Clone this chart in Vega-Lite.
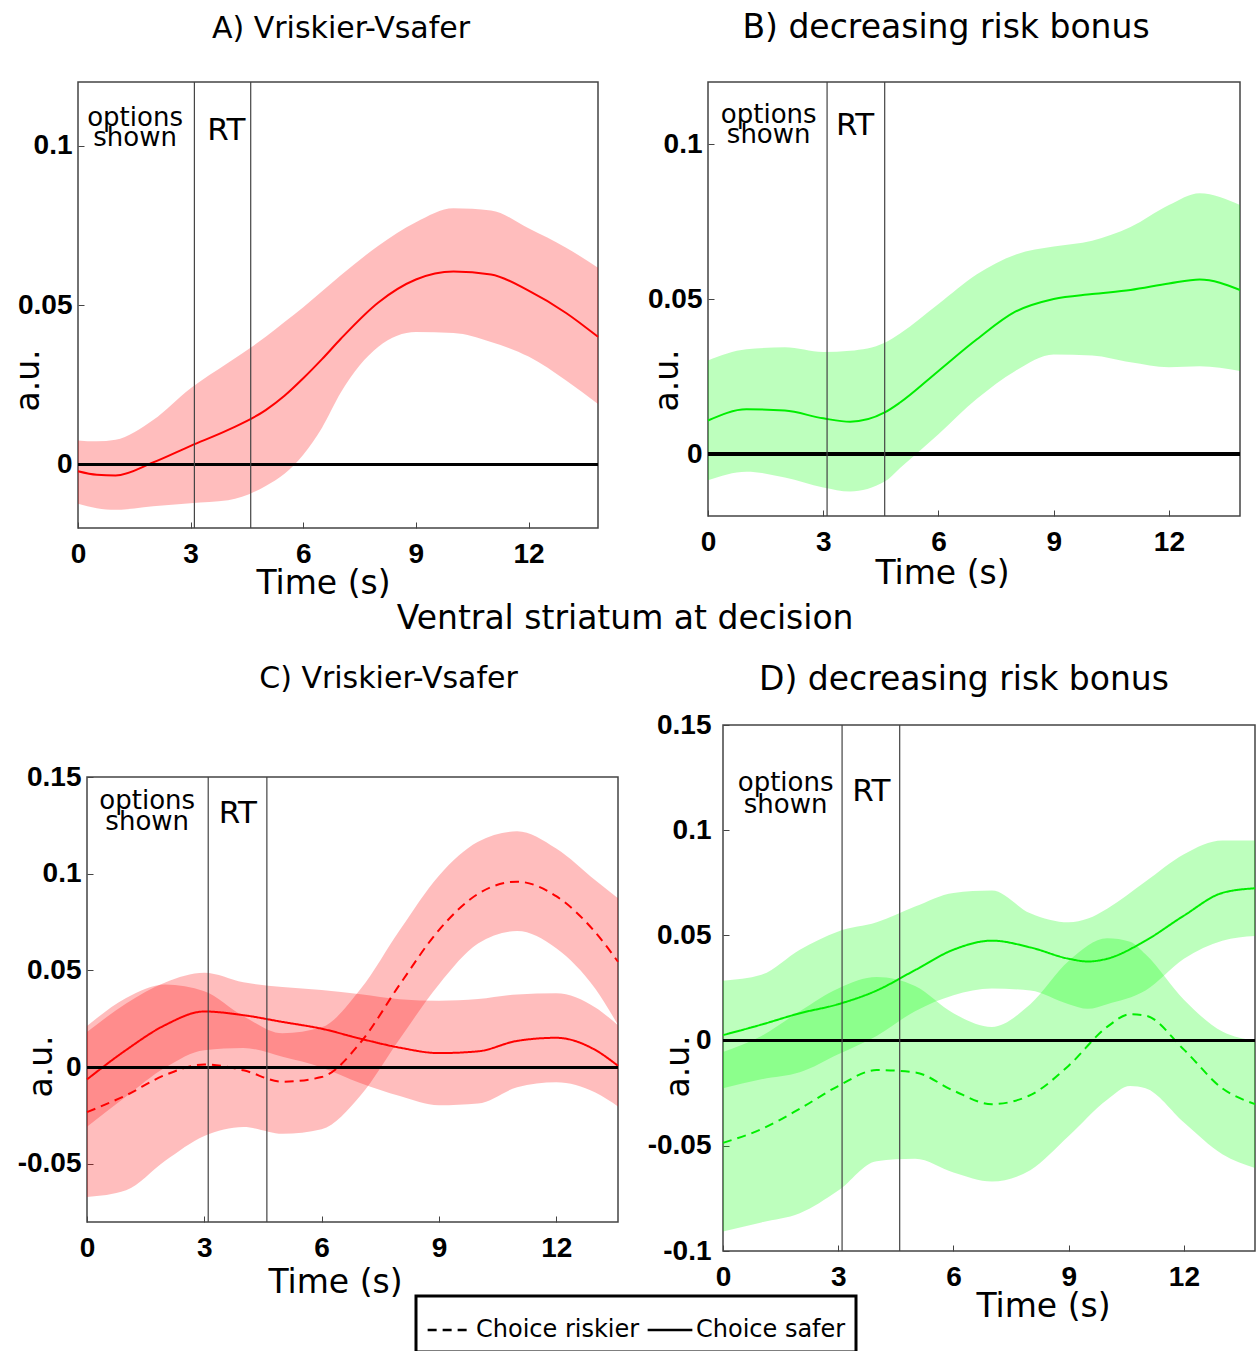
{
  "$schema": "https://vega.github.io/schema/vega-lite/v6.json",
  "padding": {"left": 11, "top": 11, "right": 0, "bottom": 0},
  "background": "white",
  "spacing": 2,
  "vconcat": [
    {
      "spacing": 43,
      "hconcat": [
        {
          "width": 520, "height": 446,
          "title": {"text": "A) Vriskier-Vsafer", "offset": 13, "dx": 3, "fontSize": 30, "baseline": "alphabetic"},
          "data": {"values": [
            {"t":0,"m":-0.0022,"lo":-0.0124,"hi":0.0075},
            {"t":0.5,"m":-0.0033,"lo":-0.0138,"hi":0.0072},
            {"t":1,"m":-0.0035,"lo":-0.0143,"hi":0.0077},
            {"t":2,"m":0.0006,"lo":-0.0132,"hi":0.0139},
            {"t":3,"m":0.0058,"lo":-0.0122,"hi":0.0239},
            {"t":4,"m":0.0108,"lo":-0.0113,"hi":0.0319},
            {"t":5,"m":0.017,"lo":-0.0068,"hi":0.040},
            {"t":5.5,"m":0.0215,"lo":-0.003,"hi":0.0447},
            {"t":6,"m":0.027,"lo":0.003,"hi":0.0493},
            {"t":6.5,"m":0.033,"lo":0.0115,"hi":0.0543},
            {"t":7,"m":0.0394,"lo":0.0225,"hi":0.0593},
            {"t":8,"m":0.0508,"lo":0.0369,"hi":0.0686},
            {"t":9,"m":0.058,"lo":0.0415,"hi":0.076},
            {"t":10,"m":0.0605,"lo":0.0412,"hi":0.0804},
            {"t":11,"m":0.0596,"lo":0.0384,"hi":0.0797},
            {"t":12,"m":0.0545,"lo":0.0338,"hi":0.0741},
            {"t":13,"m":0.0475,"lo":0.0263,"hi":0.068},
            {"t":13.85,"m":0.040,"lo":0.0189,"hi":0.0617}
          ]},
          "layer": [
            {
              "mark": {"type": "area", "color": "#ff0000", "opacity": 0.26, "interpolate": "monotone"},
              "encoding": {
                "x": {"field": "t", "type": "quantitative", "scale": {"domain": [0, 13.85], "nice": false, "zero": false},
                      "axis": {"values": [0,3,6,9,12], "title": "Time (s)", "titleX": 245, "titleY": 55}},
                "y": {"field": "lo", "type": "quantitative", "scale": {"domain": [-0.02, 0.12], "nice": false, "zero": false},
                      "axis": {"values": [0,0.05,0.1], "title": "a.u.", "titleX": -50, "titleY": 298, "labelExpr": "'' + datum.value"}},
                "y2": {"field": "hi"}
              }
            },
            {
              "mark": {"type": "line", "color": "#ff0000", "strokeWidth": 2, "interpolate": "monotone"},
              "encoding": {
                "x": {"field": "t", "type": "quantitative"},
                "y": {"field": "m", "type": "quantitative"}
              }
            },
            {
              "mark": {"type": "rule", "color": "#000", "strokeWidth": 2.5},
              "encoding": {"y": {"datum": 0, "type": "quantitative"}}
            },
            {
              "data": {"values": [{"t": 3.1}, {"t": 4.6}]},
              "mark": {"type": "rule", "color": "#444", "strokeWidth": 1.2},
              "encoding": {"x": {"field": "t", "type": "quantitative"}}
            },
            {
              "data": {"values": [{"t": 1.52, "v": 0.1063, "label": "options"}, {"t": 1.52, "v": 0.1, "label": "shown"}]},
              "mark": {"type": "text", "font": "DejaVu Sans", "fontSize": 26, "align": "center", "baseline": "alphabetic", "color": "#000"},
              "encoding": {
                "x": {"field": "t", "type": "quantitative"},
                "y": {"field": "v", "type": "quantitative"},
                "text": {"field": "label"}
              }
            },
            {
              "data": {"values": [{"t": 3.95, "v": 0.1019, "label": "RT"}]},
              "mark": {"type": "text", "font": "DejaVu Sans", "fontSize": 31, "align": "center", "baseline": "alphabetic", "color": "#000"},
              "encoding": {
                "x": {"field": "t", "type": "quantitative"},
                "y": {"field": "v", "type": "quantitative"},
                "text": {"field": "label"}
              }
            }
          ]
        },
        {
          "width": 532, "height": 434,
          "title": {"text": "B) decreasing risk bonus", "offset": 10, "dx": -28, "baseline": "alphabetic"},
          "data": {"values": [
            {"t":0,"m":0.0108,"lo":-0.0085,"hi":0.0302},
            {"t":1,"m":0.0144,"lo":-0.0057,"hi":0.0338},
            {"t":2,"m":0.014,"lo":-0.0076,"hi":0.0344},
            {"t":3,"m":0.0115,"lo":-0.0108,"hi":0.0329},
            {"t":3.7,"m":0.0104,"lo":-0.0121,"hi":0.0333},
            {"t":4.6,"m":0.0134,"lo":-0.0089,"hi":0.0359},
            {"t":5,"m":0.0166,"lo":-0.0045,"hi":0.0389},
            {"t":6,"m":0.0268,"lo":0.0064,"hi":0.0484},
            {"t":7,"m":0.037,"lo":0.0178,"hi":0.058},
            {"t":8,"m":0.0459,"lo":0.0268,"hi":0.0643},
            {"t":9,"m":0.050,"lo":0.0321,"hi":0.0669},
            {"t":10,"m":0.0516,"lo":0.0318,"hi":0.0688},
            {"t":11,"m":0.0529,"lo":0.0296,"hi":0.0732},
            {"t":12,"m":0.055,"lo":0.028,"hi":0.0803},
            {"t":12.8,"m":0.0563,"lo":0.0283,"hi":0.0841},
            {"t":13.85,"m":0.0529,"lo":0.0268,"hi":0.0803}
          ]},
          "layer": [
            {
              "mark": {"type": "area", "color": "#00ff00", "opacity": 0.26, "interpolate": "monotone"},
              "encoding": {
                "x": {"field": "t", "type": "quantitative", "scale": {"domain": [0, 13.85], "nice": false, "zero": false},
                      "axis": {"values": [0,3,6,9,12], "title": "Time (s)", "titleX": 234, "titleY": 57}},
                "y": {"field": "lo", "type": "quantitative", "scale": {"domain": [-0.02, 0.12], "nice": false, "zero": false},
                      "axis": {"values": [0,0.05,0.1], "title": "a.u.", "titleX": -41, "titleY": 298, "labelExpr": "'' + datum.value"}},
                "y2": {"field": "hi"}
              }
            },
            {
              "mark": {"type": "line", "color": "#00ee00", "strokeWidth": 2, "interpolate": "monotone"},
              "encoding": {
                "x": {"field": "t", "type": "quantitative"},
                "y": {"field": "m", "type": "quantitative"}
              }
            },
            {
              "mark": {"type": "rule", "color": "#000", "strokeWidth": 2.5},
              "encoding": {"y": {"datum": 0, "type": "quantitative"}}
            },
            {
              "data": {"values": [{"t": 3.1}, {"t": 4.6}]},
              "mark": {"type": "rule", "color": "#444", "strokeWidth": 1.2},
              "encoding": {"x": {"field": "t", "type": "quantitative"}}
            },
            {
              "data": {"values": [{"t": 1.58, "v": 0.1068, "label": "options"}, {"t": 1.58, "v": 0.1004, "label": "shown"}]},
              "mark": {"type": "text", "font": "DejaVu Sans", "fontSize": 26, "align": "center", "baseline": "alphabetic", "color": "#000"},
              "encoding": {
                "x": {"field": "t", "type": "quantitative"},
                "y": {"field": "v", "type": "quantitative"},
                "text": {"field": "label"}
              }
            },
            {
              "data": {"values": [{"t": 3.83, "v": 0.1028, "label": "RT"}]},
              "mark": {"type": "text", "font": "DejaVu Sans", "fontSize": 31, "align": "center", "baseline": "alphabetic", "color": "#000"},
              "encoding": {
                "x": {"field": "t", "type": "quantitative"},
                "y": {"field": "v", "type": "quantitative"},
                "text": {"field": "label"}
              }
            }
          ]
        }
      ]
    },
    {
      "title": {"text": "Ventral striatum at decision", "anchor": "middle", "dx": -13, "offset": 0, "baseline": "alphabetic"},
      "spacing": 23,
      "hconcat": [
        {"spacing": 0, "vconcat": [
        {"data": {"values": []}, "mark": "point", "width": 1, "height": 1, "view": {"stroke": null}},
        {"spacing": -63, "hconcat": [
        {"data": {"values": []}, "mark": "point", "width": 1, "height": 1, "view": {"stroke": null}},
        {
          "width": 531, "height": 445,
          "title": {"text": "C) Vriskier-Vsafer", "offset": 45, "dx": 36, "fontSize": 30, "baseline": "alphabetic"},
          "data": {"values": [
            {"c":"safer","t":0,"m":-0.0063,"lo":-0.0308,"hi":0.0182},
            {"c":"safer","t":1,"m":0.0089,"lo":-0.0151,"hi":0.0329},
            {"c":"safer","t":2,"m":0.0218,"lo":-0.0002,"hi":0.0438},
            {"c":"safer","t":3,"m":0.0288,"lo":0.0088,"hi":0.0488},
            {"c":"safer","t":4,"m":0.0269,"lo":0.0099,"hi":0.0439},
            {"c":"safer","t":5,"m":0.0234,"lo":0.0054,"hi":0.0414},
            {"c":"safer","t":6,"m":0.0199,"lo":-0.0001,"hi":0.0399},
            {"c":"safer","t":7,"m":0.0147,"lo":-0.0083,"hi":0.0377},
            {"c":"safer","t":8,"m":0.0101,"lo":-0.0149,"hi":0.0351},
            {"c":"safer","t":9,"m":0.0073,"lo":-0.0197,"hi":0.0343},
            {"c":"safer","t":10,"m":0.0082,"lo":-0.0188,"hi":0.0352},
            {"c":"safer","t":11,"m":0.0136,"lo":-0.0104,"hi":0.0376},
            {"c":"safer","t":12,"m":0.0152,"lo":-0.0078,"hi":0.0382},
            {"c":"safer","t":13,"m":0.0089,"lo":-0.0131,"hi":0.0309},
            {"c":"safer","t":13.58,"m":0.0007,"lo":-0.0203,"hi":0.0217},
            {"c":"riskier","t":0,"m":-0.0232,"lo":-0.0671,"hi":0.0213},
            {"c":"riskier","t":1,"m":-0.0145,"lo":-0.0636,"hi":0.0358},
            {"c":"riskier","t":2,"m":-0.004,"lo":-0.0484,"hi":0.0428},
            {"c":"riskier","t":3,"m":0.0014,"lo":-0.0356,"hi":0.0393},
            {"c":"riskier","t":4,"m":-0.0016,"lo":-0.0309,"hi":0.0264},
            {"c":"riskier","t":5,"m":-0.0075,"lo":-0.0344,"hi":0.0175},
            {"c":"riskier","t":6,"m":-0.0051,"lo":-0.032,"hi":0.0206},
            {"c":"riskier","t":7,"m":0.0129,"lo":-0.0145,"hi":0.0405},
            {"c":"riskier","t":8,"m":0.0428,"lo":0.0147,"hi":0.0709},
            {"c":"riskier","t":9,"m":0.0709,"lo":0.0428,"hi":0.099},
            {"c":"riskier","t":10,"m":0.0896,"lo":0.0639,"hi":0.1165},
            {"c":"riskier","t":11,"m":0.0959,"lo":0.0704,"hi":0.1219},
            {"c":"riskier","t":12,"m":0.0884,"lo":0.0615,"hi":0.113},
            {"c":"riskier","t":13,"m":0.0697,"lo":0.0405,"hi":0.0966},
            {"c":"riskier","t":13.58,"m":0.0545,"lo":0.0218,"hi":0.0873}
          ]},
          "layer": [
            {
              "mark": {"type": "area", "color": "#ff0000", "opacity": 0.26, "interpolate": "monotone"},
              "encoding": {
                "x": {"field": "t", "type": "quantitative", "scale": {"domain": [0, 13.58], "nice": false, "zero": false},
                      "axis": {"values": [0,3,6,9,12], "title": "Time (s)", "titleX": 248, "titleY": 60}},
                "y": {"field": "lo", "type": "quantitative", "scale": {"domain": [-0.08, 0.15], "nice": false, "zero": false},
                      "axis": {"values": [-0.05,0,0.05,0.1,0.15], "title": "a.u.", "titleX": -46, "titleY": 289, "labelExpr": "'' + datum.value"}},
                "y2": {"field": "hi"},
                "detail": {"field": "c", "type": "nominal"}
              }
            },
            {
              "mark": {"type": "line", "color": "#ff0000", "strokeWidth": 2, "interpolate": "monotone"},
              "encoding": {
                "x": {"field": "t", "type": "quantitative"},
                "y": {"field": "m", "type": "quantitative"},
                "strokeDash": {"field": "c", "type": "nominal", "scale": {"domain": ["riskier", "safer"], "range": [[9, 6], [1, 0]]},
                               "legend": {"title": null, "orient": "none", "legendX": 338, "legendY": 1214, "direction": "horizontal", "labelExpr": "'Choice ' + datum.label"}}
              }
            },
            {
              "mark": {"type": "rule", "color": "#000", "strokeWidth": 2.5},
              "encoding": {"y": {"datum": 0, "type": "quantitative"}}
            },
            {
              "data": {"values": [{"t": 3.1}, {"t": 4.6}]},
              "mark": {"type": "rule", "color": "#444", "strokeWidth": 1.2},
              "encoding": {"x": {"field": "t", "type": "quantitative"}}
            },
            {
              "data": {"values": [{"t": 1.54, "v": 0.1337, "label": "options"}, {"t": 1.54, "v": 0.1226, "label": "shown"}]},
              "mark": {"type": "text", "font": "DejaVu Sans", "fontSize": 26, "align": "center", "baseline": "alphabetic", "color": "#000"},
              "encoding": {
                "x": {"field": "t", "type": "quantitative"},
                "y": {"field": "v", "type": "quantitative"},
                "text": {"field": "label"}
              }
            },
            {
              "data": {"values": [{"t": 3.86, "v": 0.126, "label": "RT"}]},
              "mark": {"type": "text", "font": "DejaVu Sans", "fontSize": 31, "align": "center", "baseline": "alphabetic", "color": "#000"},
              "encoding": {
                "x": {"field": "t", "type": "quantitative"},
                "y": {"field": "v", "type": "quantitative"},
                "text": {"field": "label"}
              }
            }
          ]
        }]}]},
        {"spacing": 0, "vconcat": [
        {"data": {"values": []}, "mark": "point", "width": 1, "height": 1, "view": {"stroke": null}},
        {
          "width": 532, "height": 526,
          "title": {"text": "D) decreasing risk bonus", "offset": -12, "dx": -25, "baseline": "alphabetic"},
          "data": {"values": [
            {"c":"safer","t":0,"m":0.0026,"lo":-0.0227,"hi":0.0285},
            {"c":"safer","t":1,"m":0.0076,"lo":-0.0184,"hi":0.0313},
            {"c":"safer","t":2,"m":0.013,"lo":-0.0151,"hi":0.0432},
            {"c":"safer","t":3,"m":0.0173,"lo":-0.0065,"hi":0.0519},
            {"c":"safer","t":4,"m":0.0238,"lo":0.0022,"hi":0.0562},
            {"c":"safer","t":5,"m":0.0335,"lo":0.014,"hi":0.0637},
            {"c":"safer","t":6,"m":0.0432,"lo":0.0216,"hi":0.0702},
            {"c":"safer","t":7,"m":0.0475,"lo":0.0248,"hi":0.0713},
            {"c":"safer","t":8,"m":0.0443,"lo":0.0238,"hi":0.0605},
            {"c":"safer","t":9,"m":0.0389,"lo":0.0173,"hi":0.0562},
            {"c":"safer","t":9.5,"m":0.0376,"lo":0.0151,"hi":0.058},
            {"c":"safer","t":10,"m":0.0389,"lo":0.0173,"hi":0.0627},
            {"c":"safer","t":11,"m":0.0475,"lo":0.0238,"hi":0.0756},
            {"c":"safer","t":12,"m":0.0594,"lo":0.0389,"hi":0.0886},
            {"c":"safer","t":13,"m":0.0702,"lo":0.0475,"hi":0.0951},
            {"c":"safer","t":13.85,"m":0.0724,"lo":0.0497,"hi":0.0951},
            {"c":"riskier","t":0,"m":-0.0486,"lo":-0.0907,"hi":-0.0054},
            {"c":"riskier","t":1,"m":-0.0421,"lo":-0.0864,"hi":0.0022},
            {"c":"riskier","t":2,"m":-0.0324,"lo":-0.0821,"hi":0.014},
            {"c":"riskier","t":3,"m":-0.0216,"lo":-0.0713,"hi":0.0248},
            {"c":"riskier","t":4,"m":-0.014,"lo":-0.0573,"hi":0.0302},
            {"c":"riskier","t":5,"m":-0.0151,"lo":-0.0562,"hi":0.0259},
            {"c":"riskier","t":6,"m":-0.0238,"lo":-0.0627,"hi":0.013},
            {"c":"riskier","t":7,"m":-0.0302,"lo":-0.067,"hi":0.0065},
            {"c":"riskier","t":8,"m":-0.0259,"lo":-0.0616,"hi":0.0173},
            {"c":"riskier","t":9,"m":-0.0119,"lo":-0.0454,"hi":0.0378},
            {"c":"riskier","t":10,"m":0.0065,"lo":-0.0281,"hi":0.0486},
            {"c":"riskier","t":10.6,"m":0.0125,"lo":-0.0216,"hi":0.047},
            {"c":"riskier","t":11,"m":0.0119,"lo":-0.0227,"hi":0.041},
            {"c":"riskier","t":12,"m":-0.0043,"lo":-0.0389,"hi":0.0194},
            {"c":"riskier","t":13,"m":-0.0227,"lo":-0.054,"hi":0.0043},
            {"c":"riskier","t":13.85,"m":-0.0302,"lo":-0.0605,"hi":0.0}
          ]},
          "layer": [
            {
              "mark": {"type": "area", "color": "#00ff00", "opacity": 0.26, "interpolate": "monotone"},
              "encoding": {
                "x": {"field": "t", "type": "quantitative", "scale": {"domain": [0, 13.85], "nice": false, "zero": false},
                      "axis": {"values": [0,3,6,9,12], "title": "Time (s)", "titleX": 320, "titleY": 55}},
                "y": {"field": "lo", "type": "quantitative", "scale": {"domain": [-0.1, 0.15], "nice": false, "zero": false},
                      "axis": {"values": [-0.1,-0.05,0,0.05,0.1,0.15], "title": "a.u.", "titleX": -45, "titleY": 341, "labelPadding": 18, "labelExpr": "'' + datum.value"}},
                "y2": {"field": "hi"},
                "detail": {"field": "c", "type": "nominal"}
              }
            },
            {
              "mark": {"type": "line", "color": "#00ee00", "strokeWidth": 2, "interpolate": "monotone"},
              "encoding": {
                "x": {"field": "t", "type": "quantitative"},
                "y": {"field": "m", "type": "quantitative"},
                "strokeDash": {"field": "c", "type": "nominal", "scale": {"domain": ["riskier", "safer"], "range": [[9, 6], [1, 0]]},
                               "legend": {"title": null, "orient": "none", "legendX": 338, "legendY": 1214, "direction": "horizontal", "labelExpr": "'Choice ' + datum.label"}}
              }
            },
            {
              "mark": {"type": "rule", "color": "#000", "strokeWidth": 2.5},
              "encoding": {"y": {"datum": 0, "type": "quantitative"}}
            },
            {
              "data": {"values": [{"t": 3.1}, {"t": 4.6}]},
              "mark": {"type": "rule", "color": "#444", "strokeWidth": 1.2},
              "encoding": {"x": {"field": "t", "type": "quantitative"}}
            },
            {
              "data": {"values": [{"t": 1.63, "v": 0.1187, "label": "options"}, {"t": 1.63, "v": 0.108, "label": "shown"}]},
              "mark": {"type": "text", "font": "DejaVu Sans", "fontSize": 26, "align": "center", "baseline": "alphabetic", "color": "#000"},
              "encoding": {
                "x": {"field": "t", "type": "quantitative"},
                "y": {"field": "v", "type": "quantitative"},
                "text": {"field": "label"}
              }
            },
            {
              "data": {"values": [{"t": 3.86, "v": 0.114, "label": "RT"}]},
              "mark": {"type": "text", "font": "DejaVu Sans", "fontSize": 31, "align": "center", "baseline": "alphabetic", "color": "#000"},
              "encoding": {
                "x": {"field": "t", "type": "quantitative"},
                "y": {"field": "v", "type": "quantitative"},
                "text": {"field": "label"}
              }
            }
          ]
        }]}
      ]
    }
  ],
  "config": {
    "view": {"stroke": "#444", "strokeWidth": 1.5},
    "title": {"font": "DejaVu Sans", "fontSize": 33, "fontWeight": "normal", "color": "#000"},
    "axis": {
      "grid": false, "domain": false, "ticks": true, "tickSize": -6, "tickColor": "#444", "tickWidth": 1,
      "labelFont": "Liberation Sans", "labelFontWeight": "bold", "labelFontSize": 28, "labelColor": "#000",
      "titleFont": "DejaVu Sans", "titleFontWeight": "normal", "titleFontSize": 33, "titleColor": "#000",
      "labelOverlap": false, "labelFlush": false
    },
    "axisX": {"labelPadding": 18, "titleBaseline": "middle", "titleAlign": "center", "titleAngle": 0},
    "axisY": {"labelPadding": 12, "titleBaseline": "middle", "titleAlign": "center", "titleAngle": 270, "labelBaseline": "middle"},
    "legend": {
      "labelFont": "DejaVu Sans", "labelFontSize": 24, "labelColor": "#000", "labelLimit": 400,
      "symbolType": "stroke", "symbolStrokeColor": "#000", "symbolStrokeWidth": 2.5, "symbolSize": 2000,
      "strokeColor": "#000", "strokeWidth": 3, "padding": 10, "columnPadding": 2, "labelOffset": 2, "fillColor": "white"
    }
  }
}
